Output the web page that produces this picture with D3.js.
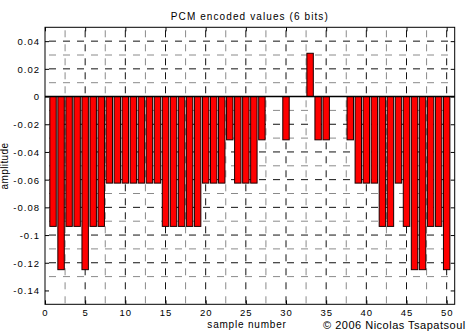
<!DOCTYPE html>
<html>
<head>
<meta charset="utf-8">
<script src="https://cdn.jsdelivr.net/npm/d3@7"></script>
<style>
  html, body { margin: 0; padding: 0; background: #fff; }
  svg { display: block; }
  text { font-family: "Liberation Sans", Arial, Helvetica, sans-serif; fill: #000; }
</style>
</head>
<body>
<svg id="chart" width="467" height="333"></svg>
<script>
// Sample indices and their 6-bit PCM quantised amplitudes (multiples of 1/32)
const sampleNumbers = [1,2,3,4,5,6,7,8,9,10,11,12,13,14,15,16,17,18,19,20,
                       21,22,23,24,25,26,27,28,29,30,31,32,33,34,35,36,37,38,39,40,
                       41,42,43,44,45,46,47,48,49,50];
const encodedValues = [
  -0.09375, -0.125,   -0.09375, -0.09375, -0.125,   -0.09375, -0.09375, -0.0625,  -0.0625,  -0.0625,
  -0.0625,  -0.0625,  -0.0625,  -0.0625,  -0.09375, -0.09375, -0.09375, -0.09375, -0.09375, -0.0625,
  -0.0625,  -0.0625,  -0.03125, -0.0625,  -0.0625,  -0.0625,  -0.03125,  0,         0,       -0.03125,
   0,        0,        0.03125, -0.03125, -0.03125,  0,        0,       -0.03125, -0.0625,  -0.0625,
  -0.0625,  -0.09375, -0.09375, -0.0625,  -0.09375, -0.125,   -0.125,   -0.09375, -0.09375, -0.125
];

// Axis ticks and grid positions
const xTickValues = [0, 5, 10, 15, 20, 25, 30, 35, 40, 45, 50];
const yTickValues = [-0.14, -0.12, -0.1, -0.08, -0.06, -0.04, -0.02, 0, 0.02, 0.04];
const xGridMajor = [5, 10, 15, 20, 25, 30, 35, 40, 45, 50];
const xGridMinor = [2.5, 7.5, 12.5, 17.5, 22.5, 27.5, 32.5, 37.5, 42.5, 47.5];
const yGridMajor = [-0.12, -0.1, -0.08, -0.06, -0.04, -0.02, 0.02, 0.04];
const yGridMinor = [-0.13, -0.11, -0.09, -0.07, -0.05, -0.03, -0.01, 0.01, 0.03];

const titleText = "PCM encoded values (6 bits)";
const xLabelText = "sample number";
const yLabelText = "amplitude";
const creditText = "\u00A9 2006 Nicolas Tsapatsoul";

const plot = { left: 45, right: 454.7, top: 27.3, bottom: 304.3 };

const x = d3.scaleLinear().domain([0, 51]).range([plot.left, plot.right]);
const y = d3.scaleLinear().domain([-0.15, 0.05]).range([plot.bottom, plot.top]);

const svg = d3.select("#chart");

// Dashed grid, drawn behind the bars
const grid = svg.append("g").attr("class", "grid");
function vGrid(vals, color) {
  grid.selectAll(null).data(vals).enter().append("line")
    .attr("x1", d => x(d)).attr("x2", d => x(d))
    .attr("y1", plot.top).attr("y2", plot.bottom)
    .attr("stroke", color).attr("stroke-width", 1)
    .attr("stroke-dasharray", "7,7").attr("stroke-dashoffset", -3);
}
function hGrid(vals, color) {
  grid.selectAll(null).data(vals).enter().append("line")
    .attr("x1", plot.left).attr("x2", plot.right)
    .attr("y1", d => y(d)).attr("y2", d => y(d))
    .attr("stroke", color).attr("stroke-width", 1)
    .attr("stroke-dasharray", "7,7").attr("stroke-dashoffset", -4);
}
vGrid(xGridMinor, "#8a8a8a");
vGrid(xGridMajor, "#111");
hGrid(yGridMinor, "#8a8a8a");
hGrid(yGridMajor, "#111");

// Bars, 0.8 sample wide, hanging from the zero baseline
const barWidth = 0.8;
const data = sampleNumbers.map((n, i) => ({ n, v: encodedValues[i] }));
svg.append("g").selectAll("rect").data(data).enter().append("rect")
  .attr("x", d => x(d.n - barWidth / 2))
  .attr("width", d => x(d.n + barWidth / 2) - x(d.n - barWidth / 2))
  .attr("y", d => y(Math.max(0, d.v)))
  .attr("height", d => Math.abs(y(d.v) - y(0)))
  .attr("fill", "#ff0000")
  .attr("stroke", "#1a0000")
  .attr("stroke-width", 1);

// Zero baseline
svg.append("line")
  .attr("x1", plot.left).attr("x2", plot.right)
  .attr("y1", y(0)).attr("y2", y(0))
  .attr("stroke", "#000").attr("stroke-width", 1.5);

// Axes with inward ticks
const fmt = d => String(+d.toFixed(2));
const axisFont = g => g.selectAll("text")
  .style("font-size", "9.5px").style("letter-spacing", "1px").attr("fill", "#000");
const axisClean = g => { g.select(".domain").remove(); g.selectAll(".tick line").attr("stroke", "#000"); };

svg.append("g").attr("transform", `translate(${plot.left},0)`)
  .call(d3.axisLeft(y).tickValues(yTickValues).tickFormat(fmt).tickSizeInner(-4).tickSizeOuter(0).tickPadding(5))
  .call(axisClean).call(axisFont)
  .call(g => g.selectAll("text").attr("dy", "0.36em"));

svg.append("g").attr("transform", `translate(${plot.right},0)`)
  .call(d3.axisRight(y).tickValues(yTickValues).tickFormat("").tickSizeInner(-4).tickSizeOuter(0))
  .call(axisClean);

svg.append("g").attr("transform", `translate(0,${plot.bottom})`)
  .call(d3.axisBottom(x).tickValues(xTickValues).tickFormat(d3.format("d")).tickSizeInner(-4).tickSizeOuter(0).tickPadding(5))
  .call(axisClean).call(axisFont)
  .call(g => g.selectAll("text").attr("dy", "0.71em"));

svg.append("g").attr("transform", `translate(0,${plot.top})`)
  .call(d3.axisTop(x).tickValues(xTickValues).tickFormat("").tickSizeInner(-4).tickSizeOuter(0))
  .call(axisClean);

// Axes box
svg.append("rect")
  .attr("x", plot.left).attr("y", plot.top)
  .attr("width", plot.right - plot.left).attr("height", plot.bottom - plot.top)
  .attr("fill", "none").attr("stroke", "#000").attr("stroke-width", 1);

// Title and labels
svg.append("text").attr("x", (plot.left + plot.right) / 2).attr("y", 20)
  .attr("text-anchor", "middle").style("font-size", "10px").style("letter-spacing", "1.1px")
  .text(titleText);

svg.append("text").attr("x", 247).attr("y", 328)
  .attr("text-anchor", "middle").style("font-size", "10px").style("letter-spacing", "0.8px")
  .text(xLabelText);

svg.append("text").attr("transform", "translate(8,166) rotate(-90)")
  .attr("text-anchor", "middle").style("font-size", "10px").style("letter-spacing", "0.4px")
  .text(yLabelText);

svg.append("text").attr("x", 323).attr("y", 328.5)
  .style("font-size", "11px").style("letter-spacing", "0.5px")
  .text(creditText);
</script>
</body>
</html>
